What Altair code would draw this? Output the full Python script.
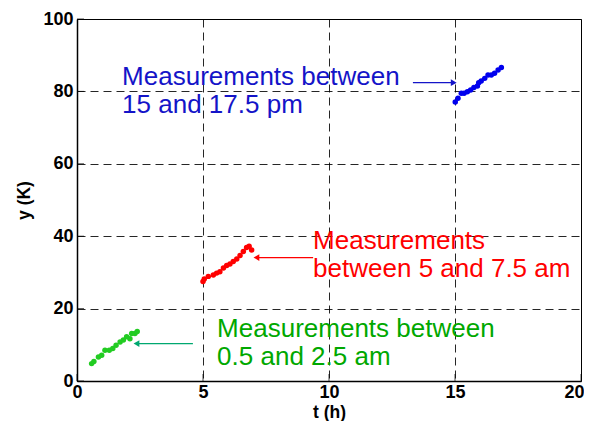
import altair as alt
import pandas as pd

# ---- data ----
green_t = [0.58, 0.67, 0.85, 0.98, 1.11, 1.28, 1.42, 1.55, 1.71, 1.84, 1.97, 2.10, 2.17, 2.30, 2.39]
green_y = [4.8, 5.4, 6.6, 7.1, 8.5, 8.5, 9.0, 9.9, 10.8, 11.3, 12.2, 11.7, 13.1, 13.1, 13.7]

red_t = [5.00, 5.05, 5.21, 5.41, 5.54, 5.67, 5.81, 5.94, 6.07, 6.20, 6.34, 6.47, 6.60, 6.73, 6.83, 6.93]
red_y = [27.5, 28.2, 28.9, 29.3, 29.8, 30.2, 31.2, 31.9, 32.3, 33.0, 33.7, 34.7, 35.8, 36.9, 37.2, 36.2]

blue_t = [15.01, 15.12, 15.25, 15.36, 15.49, 15.62, 15.75, 15.89, 15.94, 16.04, 16.18, 16.31, 16.44, 16.57, 16.71, 16.84]
blue_y = [77.1, 78.1, 79.5, 79.5, 79.9, 80.4, 81.1, 81.5, 82.4, 82.9, 83.6, 84.5, 84.5, 85.0, 85.9, 86.6]

x_ticks = [0, 5, 10, 15, 20]
y_ticks = [0, 20, 40, 60, 80, 100]

GREEN = "#22cc22"
RED = "#ff0000"
BLUE = "#0000ee"

# annotation text (lines), anchor positions in data units
label_text = ["Measurements between", "15 and 17.5 pm",
              "Measurements", "between 5 and 7.5 am",
              "Measurements between", "0.5 and 2.5 am"]
label_t = [1.79, 1.79, 9.37, 9.37, 5.56, 5.56]
label_y = [81.75, 74.0, 36.4, 28.65, 12.16, 4.34]
label_c = ["#1414c8", "#1414c8", RED, RED, "#00a800", "#00a800"]

# arrows: shaft from t_from to t_to at height y; head at t_head
arrow_from = [13.33, 9.37, 4.60]
arrow_to = [14.85, 7.20, 2.44]
arrow_head = [14.95, 7.12, 2.36]
arrow_y = [82.4, 34.1, 10.34]
arrow_c = ["#1414c8", RED, "#00a870"]
arrow_shape = ["triangle-right", "triangle-left", "triangle-left"]

pts = pd.DataFrame({
    "t": green_t + red_t + blue_t,
    "y": green_y + red_y + blue_y,
    "c": [GREEN] * len(green_t) + [RED] * len(red_t) + [BLUE] * len(blue_t),
})
labels = pd.DataFrame({"t": label_t, "y": label_y, "text": label_text, "c": label_c})
arrows = pd.DataFrame({"t": arrow_from, "t2": arrow_to, "th": arrow_head,
                       "y": arrow_y, "c": arrow_c, "shape": arrow_shape})
xt = pd.DataFrame({"t": x_ticks, "y": [0] * len(x_ticks)})
yt = pd.DataFrame({"t": [0] * len(y_ticks), "y": y_ticks})

xs = alt.Scale(domain=[0, 20], nice=False)
ys = alt.Scale(domain=[0, 100], nice=False)

xaxis = alt.Axis(
    values=x_ticks, title="t (h)", grid=True, labelPadding=2,
    titlePadding=2, labelFlush=False, labelOverlap=False,
    labelAlign={"condition": {"test": "datum.value == 20", "value": "right"}, "value": "center"},
    labelOffset={"condition": {"test": "datum.value == 20", "value": 3}, "value": 0},
)
yaxis = alt.Axis(values=y_ticks, title="y (K)", grid=True, labelPadding=4,
                 titlePadding=9, labelFlush=False, labelOverlap=False)

points = alt.Chart(pts).mark_circle(size=30, opacity=1).encode(
    x=alt.X("t:Q", scale=xs, axis=xaxis),
    y=alt.Y("y:Q", scale=ys, axis=yaxis),
    color=alt.Color("c:N", scale=None),
)

text = alt.Chart(labels).mark_text(
    align="left", baseline="alphabetic", fontSize=26, font="Liberation Sans"
).encode(
    x=alt.X("t:Q", scale=xs), y=alt.Y("y:Q", scale=ys),
    text="text:N", color=alt.Color("c:N", scale=None),
)

shafts = alt.Chart(arrows).mark_rule(strokeWidth=1.2).encode(
    x=alt.X("t:Q", scale=xs), x2="t2:Q", y=alt.Y("y:Q", scale=ys),
    color=alt.Color("c:N", scale=None),
)

heads = alt.Chart(arrows).mark_point(filled=True, size=45, opacity=1).encode(
    x=alt.X("th:Q", scale=xs), y=alt.Y("y:Q", scale=ys),
    shape=alt.Shape("shape:N", scale=None),
    color=alt.Color("c:N", scale=None),
)

xticks = alt.Chart(xt).mark_tick(orient="vertical", size=7, thickness=1, color="black", yOffset=-3.5).encode(
    x=alt.X("t:Q", scale=xs), y=alt.Y("y:Q", scale=ys))
yticks = alt.Chart(yt).mark_tick(orient="horizontal", size=7, thickness=1, color="black", xOffset=3.5).encode(
    x=alt.X("t:Q", scale=xs), y=alt.Y("y:Q", scale=ys))

chart = alt.layer(xticks, yticks, shafts, heads, points, text).properties(
    width=504, height=362,
    autosize=alt.AutoSizeParams(type="none"),
    padding={"left": 69, "top": 11, "right": 3, "bottom": 40},
).configure_view(
    stroke="black", strokeWidth=1
).configure_axis(
    labelFont="Liberation Sans", labelFontWeight="bold", labelFontSize=18, labelColor="black",
    titleFont="Liberation Sans", titleFontWeight="bold", titleFontSize=17.5, titleColor="black",
    gridColor="black", gridDash=[8, 5], gridWidth=1, gridOpacity=0.85,
    domainColor="black", domainWidth=1.5, ticks=False,
)

chart.save("out.html", embed_options={"renderer": "svg", "actions": False})
